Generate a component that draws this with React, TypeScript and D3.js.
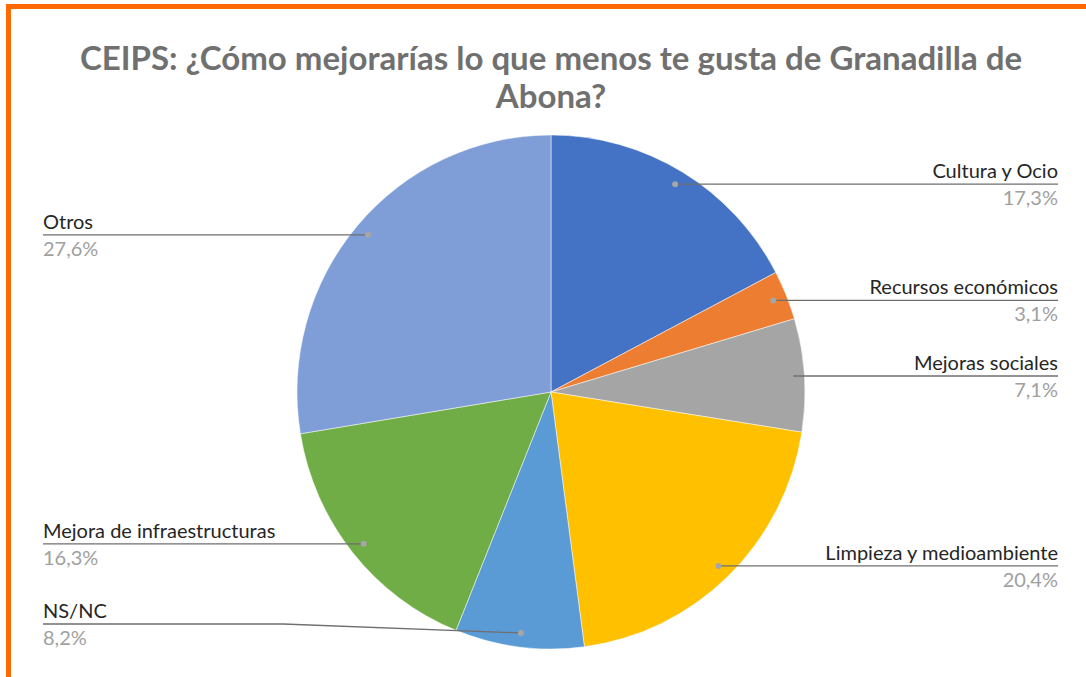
import React from "react";
import * as d3 from "d3";

const categories = [
  "Cultura y Ocio",
  "Recursos económicos",
  "Mejoras sociales",
  "Limpieza y medioambiente",
  "NS/NC",
  "Mejora de infraestructuras",
  "Otros",
];
const values = [17.3, 3.1, 7.1, 20.4, 8.2, 16.3, 27.6];
const colors = ["#4472C4", "#ED7D31", "#A5A5A5", "#FFC000", "#5B9BD5", "#70AD47", "#7F9DD6"];
const titleLines = [
  "CEIPS: ¿Cómo mejorarías lo que menos te gusta de Granadilla de",
  "Abona?",
];

const W = 1086;
const H = 677;
const cx = 551;
const cy = 392;
const R = 257;
const SX = 254 / 257;
const FONT = "Lato, 'Noto Sans', sans-serif";

export default function App() {
  const pie = d3.pie<number>().sort(null).value((d) => d);
  const arcs = pie(values);
  const arcGen = d3.arc<d3.PieArcDatum<number>>().innerRadius(0).outerRadius(R);
  const dotArc = d3.arc<d3.PieArcDatum<number>>().innerRadius(R * 0.945).outerRadius(R * 0.945);
  const fmt = (v: number) => d3.format(".1f")(v).replace(".", ",") + "%";

  const leftX = 43;
  const rightX = 1058;
  const maxLabelY = 624;

  return (
    <svg
      width={W}
      height={H}
      style={{ position: "absolute", left: 0, top: 0, background: "#fff" }}
    >
      <rect x={0} y={0} width={W} height={H} fill="#fff" />
      <rect x={8.5} y={6.5} width={W + 20} height={H + 20} fill="none" stroke="#FF6A00" strokeWidth={5} />
      {titleLines.map((t, i) => (
        <text
          key={i}
          x={cx}
          y={70 + i * 38}
          textAnchor="middle"
          fontFamily={FONT}
          fontWeight={700}
          fontSize={33}
          fill="#707070"
        >
          {t}
        </text>
      ))}
      <g transform={`translate(${cx},${cy}) scale(${SX},1)`}>
        {arcs.map((a, i) => (
          <path key={i} d={arcGen(a) || ""} fill={colors[i]} stroke="#fff" strokeWidth={0.5} />
        ))}
      </g>
      {arcs.map((a, i) => {
        const [dx, dy] = dotArc.centroid(a);
        const px = cx + dx * SX;
        const py = cy + dy;
        const right = px > cx;
        const ly = Math.min(py, maxLabelY);
        const endX = right ? rightX : leftX;
        const bendX = right ? px : Math.min(px, 283);
        const pts: [number, number][] =
          ly === py ? [[endX, ly], [px, py]] : [[endX, ly], [bendX, ly], [px, py]];
        return (
          <g key={i}>
            <path d={d3.line()(pts) || ""} fill="none" stroke="#6F6F6F" strokeWidth={1.3} />
            <circle cx={px} cy={py} r={3} fill="#A6A6A6" />
            <text
              x={endX}
              y={ly - 6}
              textAnchor={right ? "end" : "start"}
              fontFamily={FONT}
              fontSize={20}
              fill="#262626"
            >
              {categories[i]}
            </text>
            <text
              x={endX}
              y={ly + 21}
              textAnchor={right ? "end" : "start"}
              fontFamily={FONT}
              fontSize={20}
              fill="#A0A0A0"
            >
              {fmt(values[i])}
            </text>
          </g>
        );
      })}
    </svg>
  );
}
